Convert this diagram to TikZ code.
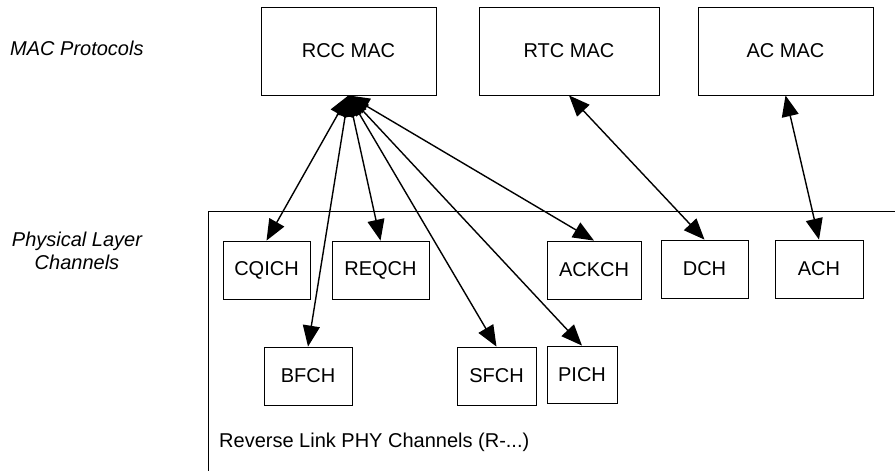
\documentclass[tikz,border=0pt]{standalone}
\usepackage{fontspec}
\setmainfont{Liberation Sans}
\usetikzlibrary{arrows.meta}
\tikzset{
  box/.style={draw, line width=0.8pt, inner sep=0pt, font=\fontsize{20}{22}\selectfont},
  lbl/.style={inner sep=0pt, font=\fontsize{20}{23}\selectfont\itshape},
  biarrow/.style={line width=1.4pt, {Triangle[length=21pt,width=17pt]}-{Triangle[length=21pt,width=17pt]}},
}
\begin{document}
\begin{tikzpicture}[x=1pt,y=-1pt]
\useasboundingbox (0,0) rectangle (895,471);
% container
\draw[line width=0.8pt] (208,471) -- (208,211) -- (895,211);
\node[inner sep=0pt, anchor=west, font=\fontsize{20}{22}\selectfont] (rev) at (219,442) {Reverse Link PHY Channels (R-...)};
% labels
\node[lbl, anchor=west] (macp) at (10,48) {MAC Protocols};
\node[lbl, align=center] (phys) at (77,251) {Physical Layer\\Channels};
% MAC boxes
\node[box, minimum width=175pt, minimum height=88pt] (rcc) at (348.5,51) {RCC MAC};
\node[box, minimum width=180pt, minimum height=88pt] (rtc) at (569,51) {RTC MAC};
\node[box, minimum width=175pt, minimum height=88pt] (ac) at (785.5,51) {AC MAC};
% channel boxes
\node[box, minimum width=87pt, minimum height=58pt] (cqich) at (266.5,270) {CQICH};
\node[box, minimum width=97pt, minimum height=58pt] (reqch) at (380.5,270) {REQCH};
\node[box, minimum width=94pt, minimum height=58pt] (ackch) at (594,270) {ACKCH};
\node[box, minimum width=87pt, minimum height=58pt] (dch) at (704.5,269) {DCH};
\node[box, minimum width=88pt, minimum height=58pt] (ach) at (819,269) {ACH};
\node[box, minimum width=88pt, minimum height=58pt] (bfch) at (308,376) {BFCH};
\node[box, minimum width=79pt, minimum height=58pt] (sfch) at (496.5,376) {SFCH};
\node[box, minimum width=70pt, minimum height=57pt] (pich) at (582,374.5) {PICH};
% connectors
\draw[biarrow] (rcc.south) -- (cqich.north);
\draw[biarrow] (rcc.south) -- (bfch.north);
\draw[biarrow] (rcc.south) -- (reqch.north);
\draw[biarrow] (rcc.south) -- (sfch.north);
\draw[biarrow] (rcc.south) -- (pich.north);
\draw[biarrow] (rcc.south) -- (ackch.north);
\draw[biarrow] (rtc.south) -- (dch.north);
\draw[biarrow] (ac.south) -- (ach.north);
\end{tikzpicture}
\end{document}
